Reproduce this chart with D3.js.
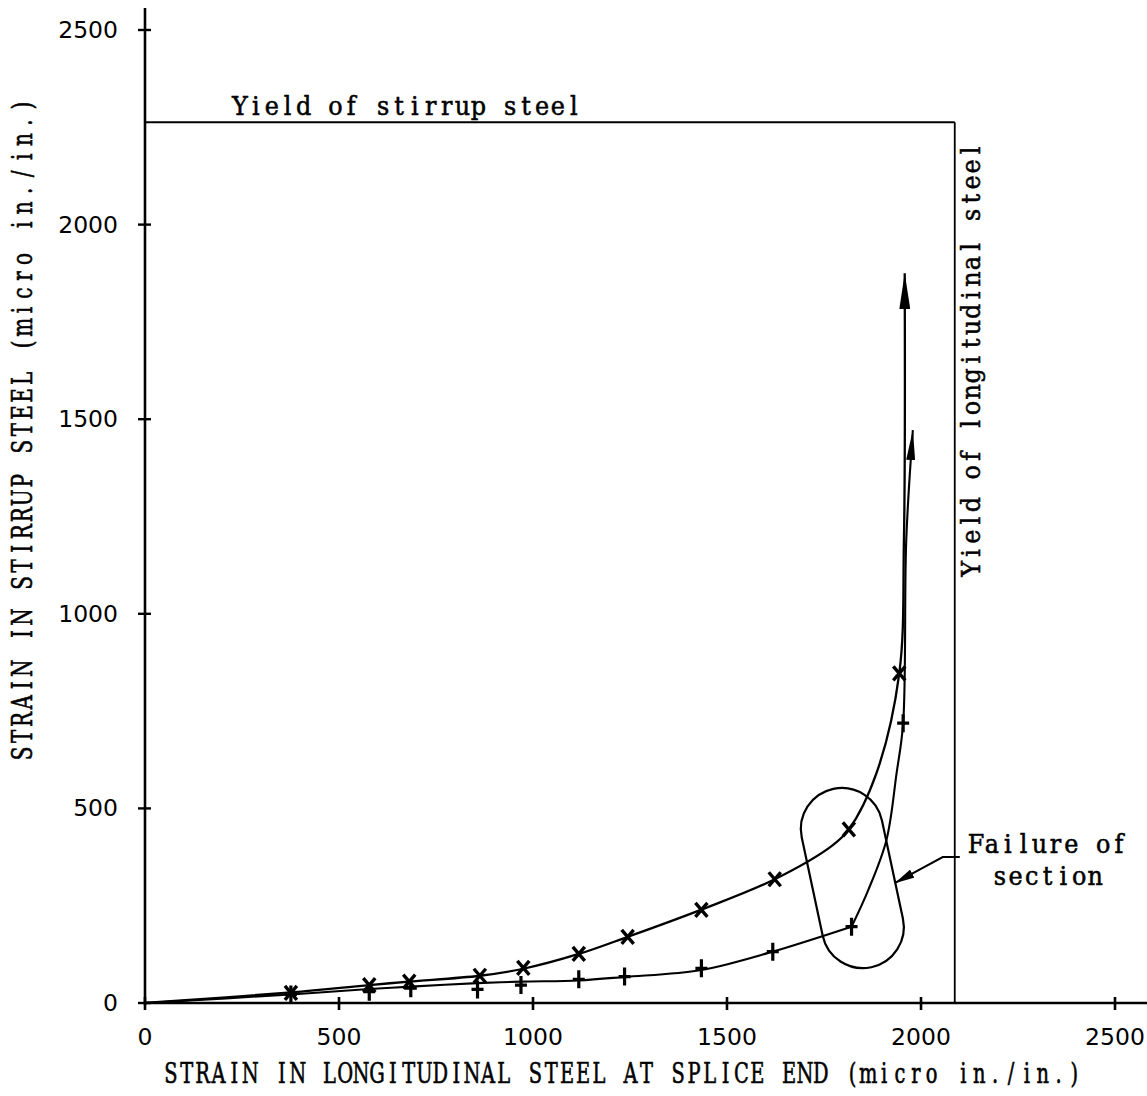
<!DOCTYPE html>
<html>
<head>
<meta charset="utf-8">
<script src="https://cdn.jsdelivr.net/npm/d3@7"></script>
<style>
  html, body { margin: 0; padding: 0; background: #fff; }
  svg { display: block; }
</style>
</head>
<body>
<svg id="chart" width="1147" height="1096"></svg>
<script>
// ---------- data ----------
const xTicks = [0, 500, 1000, 1500, 2000, 2500];
const yTicks = [0, 500, 1000, 1500, 2000, 2500];

// "x" markers (upper series)
const crossX = [376, 578, 681, 863, 975, 1118, 1244, 1434, 1623, 1814, 1944];
const crossY = [26, 46, 55, 70, 90, 126, 170, 239, 318, 446, 847];
// "+" markers (lower series)
const plusX = [376, 578, 685, 857, 969, 1118, 1236, 1434, 1618, 1821, 1954];
const plusY = [22, 29, 38, 35, 46, 61, 68, 89, 132, 196, 719];

// hand-faired curves
const curveUpperX = [0, 376, 578, 681, 863, 975, 1118, 1244, 1434, 1623, 1772, 1814, 1885, 1944, 1956, 1958];
const curveUpperY = [0, 27, 46, 55, 70, 88, 126, 170, 240, 318, 405, 446, 590, 847, 1190, 1875];
// lower curve: gentle part, then a sharp turn upward at the last "+" before failure
const curveLowerAX = [0, 376, 578, 685, 857, 969, 1118, 1236, 1434, 1618, 1821];
const curveLowerAY = [0, 22, 36, 42, 51, 55, 58, 67, 85, 132, 196];
const curveLowerBX = [1821, 1864, 1911, 1937, 1954, 1962, 1979];
const curveLowerBY = [196, 290, 419, 590, 719, 1190, 1472];

// yield limits
const yieldStirrup = 2263;
const yieldLongitudinal = 2087;

// failure-of-section outline (two end centres of a stadium shape)
const failureEndsX = [1796, 1850];
const failureEndsY = [447, 195];
// leader from label to outline
const leaderX = [2100, 2056, 1932];
const leaderY = [375, 375, 308];
const failureLabelX = 2326;
const failureLabelY = [385, 302];
const failureLabel = ["Failure of", "section"];

const xTitle = "STRAIN IN LONGITUDINAL STEEL AT SPLICE END (micro in./in.)";
const yTitle = "STRAIN IN STIRRUP STEEL (micro in./in.)";
const yieldStirrupLabel = "Yield of stirrup steel";
const yieldLongLabel = "Yield of longitudinal steel";

// ---------- drawing ----------
const svg = d3.select("#chart");
const x = d3.scaleLinear().domain([0, 2500]).range([145, 1115]);
const y = d3.scaleLinear().domain([0, 2500]).range([1003, 30]);

const SERIF = "'DejaVu Serif', 'Liberation Serif', serif";

// typewriter-like text: every character centred in an equal-width cell,
// glyphs squeezed horizontally by sx
function typeText(parent, str, x0, baseline, pitch, size, sx, weight) {
  const g = parent.append("g").attr("transform", `scale(${sx},1)`);
  const xs = Array.from(str, (c, i) => ((x0 + pitch * (i + 0.5)) / sx).toFixed(2));
  return g.append("text")
    .attr("x", xs.join(" ")).attr("y", baseline)
    .attr("text-anchor", "middle")
    .attr("font-family", SERIF).attr("font-size", size)
    .attr("fill", "#000")
    .attr("stroke", "#000").attr("stroke-width", weight)
    .style("white-space", "pre")
    .text(str);
}

const defs = svg.append("defs");
function arrowMarker(id, len, wid) {
  defs.append("marker")
    .attr("id", id)
    .attr("markerUnits", "userSpaceOnUse")
    .attr("viewBox", `0 ${-wid / 2} ${len} ${wid}`)
    .attr("refX", len).attr("refY", 0)
    .attr("markerWidth", len).attr("markerHeight", wid)
    .attr("orient", "auto")
    .append("path")
    .attr("d", `M0,${-wid / 2}L${len},0L0,${wid / 2}Z`)
    .attr("fill", "#000");
}
arrowMarker("arrowBig", 36, 11);
arrowMarker("arrowMid", 30, 9);
arrowMarker("arrowSmall", 20, 9);

svg.append("rect").attr("width", 1147).attr("height", 1096).attr("fill", "#fff");

// axes lines
svg.append("line").attr("x1", x(0)).attr("x2", 1147).attr("y1", y(0)).attr("y2", y(0))
  .attr("stroke", "#000").attr("stroke-width", 2.6);
svg.append("line").attr("x1", x(0)).attr("x2", x(0)).attr("y1", y(0) + 2).attr("y2", 8)
  .attr("stroke", "#000").attr("stroke-width", 2.6);

// ticks (crossing)
svg.selectAll(".xt").data(xTicks).enter().append("line")
  .attr("x1", d => x(d)).attr("x2", d => x(d))
  .attr("y1", y(0) - 6).attr("y2", y(0) + 7)
  .attr("stroke", "#000").attr("stroke-width", 2.6);
svg.selectAll(".yt").data(yTicks).enter().append("line")
  .attr("y1", d => y(d)).attr("y2", d => y(d))
  .attr("x1", x(0) - 7).attr("x2", x(0) + 6)
  .attr("stroke", "#000").attr("stroke-width", 2.4);

// tick labels
svg.selectAll(".xl").data(xTicks).enter().append("text")
  .attr("x", d => x(d)).attr("y", y(0) + 42)
  .attr("text-anchor", "middle")
  .attr("font-family", "DejaVu Sans").attr("font-size", 23.5)
  .text(d => d);
svg.selectAll(".yl").data(yTicks).enter().append("text")
  .attr("x", x(0) - 27).attr("y", d => y(d) + 8)
  .attr("text-anchor", "end")
  .attr("font-family", "DejaVu Sans").attr("font-size", 23.5)
  .text(d => d);

// axis titles
typeText(svg, xTitle, 163, 1083, 15.85, 27, 0.72, 0.6);
const yTitleG = svg.append("g").attr("transform", "translate(32,0) rotate(-90)");
typeText(yTitleG, yTitle, -762, 0, 17.05, 27, 0.74, 0.6);

// yield lines
svg.append("line").attr("x1", x(0)).attr("x2", x(yieldLongitudinal))
  .attr("y1", y(yieldStirrup)).attr("y2", y(yieldStirrup))
  .attr("stroke", "#000").attr("stroke-width", 1.8);
svg.append("line").attr("x1", x(yieldLongitudinal)).attr("x2", x(yieldLongitudinal))
  .attr("y1", y(yieldStirrup)).attr("y2", y(0))
  .attr("stroke", "#000").attr("stroke-width", 1.8);
typeText(svg, yieldStirrupLabel, 232, y(yieldStirrup) - 7, 15.9, 26, 0.92, 0.55);
const yLongG = svg.append("g")
  .attr("transform", `translate(${x(yieldLongitudinal) + 25},0) rotate(-90)`);
typeText(yLongG, yieldLongLabel, -577, 0, 16.1, 26, 0.92, 0.55);

// curves
const line = d3.line().x(d => x(d[0])).y(d => y(d[1])).curve(d3.curveCatmullRom.alpha(0.5));
svg.append("path")
  .attr("d", line(d3.zip(curveUpperX, curveUpperY)))
  .attr("fill", "none").attr("stroke", "#000").attr("stroke-width", 2.3)
  .attr("marker-end", "url(#arrowBig)");
svg.append("path")
  .attr("d", line(d3.zip(curveLowerAX, curveLowerAY)))
  .attr("fill", "none").attr("stroke", "#000").attr("stroke-width", 2.1);
svg.append("path")
  .attr("d", line(d3.zip(curveLowerBX, curveLowerBY)))
  .attr("fill", "none").attr("stroke", "#000").attr("stroke-width", 2.1)
  .attr("marker-end", "url(#arrowMid)");

// markers
svg.selectAll(".cross").data(d3.zip(crossX, crossY)).enter().append("path")
  .attr("transform", d => `translate(${x(d[0])},${y(d[1])})`)
  .attr("d", "M-6,-7L6,7M6,-7L-6,7")
  .attr("stroke", "#000").attr("stroke-width", 3.4).attr("fill", "none");
svg.selectAll(".plus").data(d3.zip(plusX, plusY)).enter().append("path")
  .attr("transform", d => `translate(${x(d[0])},${y(d[1])})`)
  .attr("d", "M0,-9L0,9M-6,0L6,0")
  .attr("stroke", "#000").attr("stroke-width", 3.2).attr("fill", "none");

// failure outline (stadium)
const c1 = [x(failureEndsX[0]), y(failureEndsY[0])];
const c2 = [x(failureEndsX[1]), y(failureEndsY[1])];
const r = 41;
const dx = c2[0] - c1[0], dy = c2[1] - c1[1];
const L = Math.hypot(dx, dy);
const n = [-dy / L * r, dx / L * r];
const p = d3.path();
p.moveTo(c1[0] + n[0], c1[1] + n[1]);
p.lineTo(c2[0] + n[0], c2[1] + n[1]);
const a2 = Math.atan2(n[1], n[0]);
p.arc(c2[0], c2[1], r, a2, a2 + Math.PI, true);
p.lineTo(c1[0] - n[0], c1[1] - n[1]);
p.arc(c1[0], c1[1], r, a2 + Math.PI, a2 + 2 * Math.PI, true);
p.closePath();
svg.append("path").attr("d", p.toString())
  .attr("fill", "none").attr("stroke", "#000").attr("stroke-width", 2.2);

// leader
svg.append("path")
  .attr("d", d3.line().x(d => x(d[0])).y(d => y(d[1])).curve(d3.curveLinear)(d3.zip(leaderX, leaderY)))
  .attr("fill", "none").attr("stroke", "#000").attr("stroke-width", 2)
  .attr("marker-end", "url(#arrowSmall)");

failureLabel.forEach((s, i) => {
  const pitch = 15.9;
  typeText(svg, s, x(failureLabelX) - pitch * s.length / 2, y(failureLabelY[i]), pitch, 26, 0.92, 0.55);
});
</script>
</body>
</html>
